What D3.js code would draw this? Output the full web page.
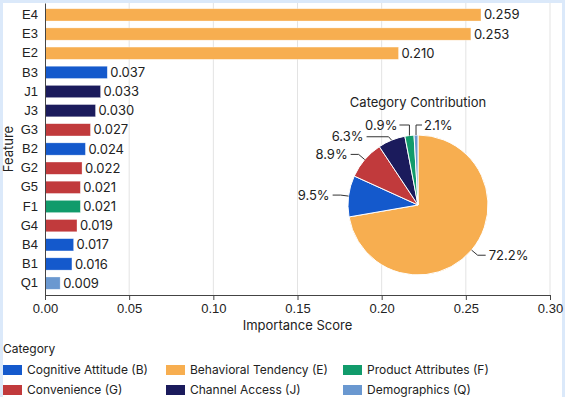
<!DOCTYPE html>
<html>
<head>
<meta charset="utf-8">
<script src="https://cdn.jsdelivr.net/npm/d3@7"></script>
<style>
  body { margin: 0; background: #dbe9fa; }
  svg { display: block; font-family: Inter, "Helvetica Neue", Arial, sans-serif; }
</style>
</head>
<body>
<div id="chart"></div>
<script>
// feature importance, top to bottom
const features = ['E4', 'E3', 'E2', 'B3', 'J1', 'J3', 'G3', 'B2', 'G2', 'G5', 'F1', 'G4', 'B4', 'B1', 'Q1'];
const importance = [0.259, 0.253, 0.210, 0.037, 0.033, 0.030, 0.027, 0.024, 0.022, 0.021, 0.021, 0.019, 0.017, 0.016, 0.009];
const xTicks = [0, 0.05, 0.10, 0.15, 0.20, 0.25, 0.30];

// categories (legend order)
const catCodes = ['B', 'E', 'F', 'G', 'J', 'Q'];
const catNames = ['Cognitive Attitude (B)', 'Behavioral Tendency (E)', 'Product Attributes (F)',
                  'Convenience (G)', 'Channel Access (J)', 'Demographics (Q)'];
const catColors = ['#1459cc', '#f7ae50', '#119b6b', '#c13a3c', '#1b1b5c', '#6a98d0'];

// pie: category share in percent (clockwise from top)
const pieCats = ['E', 'B', 'G', 'J', 'F', 'Q'];
const pieShare = [72.2, 9.5, 8.9, 6.3, 2.1, 0.9];
const pieLabels = ['72.2%', '9.5%', '8.9%', '6.3%', '0.9%', '2.1%'];

const W = 565, H = 397;
const margin = {top: 3, right: 15, bottom: 102, left: 45};

const color = d3.scaleOrdinal().domain(catCodes).range(catColors);

const svg = d3.select('#chart').append('svg')
  .attr('width', W)
  .attr('height', H);

// light frame around the card
svg.append('rect').attr('width', W).attr('height', H).attr('fill', '#dbe9fa');
svg.append('rect').attr('x', 3).attr('y', 3).attr('width', W - 6).attr('height', H).attr('fill', '#fff');

const x = d3.scaleLinear().domain([0, 0.30]).range([margin.left, W - margin.right]);
const y = d3.scaleBand().domain(features).range([margin.top, H - margin.bottom])
  .paddingInner(0.36).paddingOuter(0.3);

// gridlines
svg.append('g')
  .selectAll('line')
  .data(xTicks.slice(1))
  .join('line')
    .attr('x1', d => x(d)).attr('x2', d => x(d))
    .attr('y1', margin.top).attr('y2', H - margin.bottom)
    .attr('stroke', '#e3e3e3');

// bars
svg.append('g')
  .selectAll('rect')
  .data(features)
  .join('rect')
    .attr('x', x(0))
    .attr('y', d => y(d))
    .attr('width', (d, i) => x(importance[i]) - x(0))
    .attr('height', y.bandwidth())
    .attr('fill', d => color(d[0]))
    .attr('stroke', '#fff')
    .attr('stroke-opacity', 0.5)
    .attr('stroke-width', 0.6);

// value labels
svg.append('g')
  .selectAll('text')
  .data(features)
  .join('text')
    .attr('x', (d, i) => x(importance[i]) + 3)
    .attr('y', d => y(d) + y.bandwidth() / 2)
    .attr('dy', '0.35em')
    .attr('font-size', 13)
    .attr('fill', '#222')
    .text((d, i) => importance[i].toFixed(3));

// axes
const xAxis = svg.append('g')
  .attr('transform', `translate(0,${H - margin.bottom})`)
  .call(d3.axisBottom(x).tickValues(xTicks).tickFormat(d3.format('.2f')).tickSize(5).tickPadding(4));
xAxis.select('.domain').attr('stroke', '#444');
xAxis.selectAll('.tick line').attr('stroke', '#444');
xAxis.selectAll('text').attr('font-size', 13).attr('fill', '#222').attr('font-family', null);

const yAxis = svg.append('g')
  .attr('transform', `translate(${margin.left},0)`)
  .call(d3.axisLeft(y).tickSize(0).tickPadding(7));
yAxis.select('.domain').attr('stroke', '#444');
yAxis.selectAll('text').attr('font-size', 13).attr('fill', '#222').attr('font-family', null);

svg.append('text')
  .attr('x', (x(0) + x(0.30)) / 2)
  .attr('y', 330)
  .attr('text-anchor', 'middle')
  .attr('font-size', 13)
  .attr('fill', '#222')
  .text('Importance Score');

svg.append('text')
  .attr('transform', `translate(13,${(margin.top + H - margin.bottom) / 2}) rotate(-90)`)
  .attr('text-anchor', 'middle')
  .attr('font-size', 13)
  .attr('fill', '#222')
  .text('Feature');

// inset pie
const cx = 418, cy = 205, r = 70;
const pie = d3.pie().sort(null).value(d => d)(pieShare);
const arc = d3.arc().innerRadius(0).outerRadius(r);

const pg = svg.append('g').attr('transform', `translate(${cx},${cy})`);

pg.selectAll('path')
  .data(pie)
  .join('path')
    .attr('d', arc)
    .attr('fill', (d, i) => color(pieCats[i]))
    .attr('stroke', '#fff')
    .attr('stroke-width', 1);

pg.append('text')
  .attr('x', 0)
  .attr('y', -r - 28)
  .attr('text-anchor', 'middle')
  .attr('font-size', 13)
  .attr('fill', '#222')
  .text('Category Contribution');

// leader lines: point on rim -> elbow -> horizontal run to the text
// small nudges keep the crowded labels near the top apart
const nudgeY = [0, 0, 0, 4];
const nudgeX = [0, 0, 0, 14];
const topY = -r - 10;
pie.forEach((d, i) => {
  const a = (d.startAngle + d.endAngle) / 2;
  const px = r * Math.sin(a), py = -r * Math.cos(a);
  let pts, tx, ty, anchor;
  if (i >= 4) {
    // tiny slices at top: go straight up then sideways
    const dir = i === 4 ? -1 : 1;
    const run = i === 4 ? 10 : 6;
    pts = [[px, py], [px, topY], [px + dir * run, topY]];
    tx = px + dir * (run + 2); ty = topY; anchor = dir < 0 ? 'end' : 'start';
  } else {
    const ex = (r + 8) * Math.sin(a), ey = -(r + 8) * Math.cos(a) + nudgeY[i];
    const dir = ex < 0 ? -1 : 1;
    const run = 8 + nudgeX[i];
    pts = [[px, py], [ex, ey], [ex + dir * run, ey]];
    tx = ex + dir * (run + 3); ty = ey; anchor = dir < 0 ? 'end' : 'start';
  }
  pg.append('path')
    .attr('d', d3.line()(pts))
    .attr('fill', 'none')
    .attr('stroke', '#333')
    .attr('stroke-width', 1);
  pg.append('text')
    .attr('x', tx)
    .attr('y', ty)
    .attr('dy', '0.35em')
    .attr('text-anchor', anchor)
    .attr('font-size', 13)
    .attr('fill', '#222')
    .text(pieLabels[i]);
});

// legend
const legend = svg.append('g');
legend.append('text')
  .attr('x', 3)
  .attr('y', 353)
  .attr('font-size', 12)
  .attr('fill', '#222')
  .text('Category');

const colX = [3, 166, 343];
const item = legend.selectAll('g.item')
  .data(catCodes)
  .join('g')
    .attr('class', 'item')
    .attr('transform', (d, i) => `translate(${colX[i % 3]},${370 + Math.floor(i / 3) * 20})`);
item.append('rect')
  .attr('y', -5)
  .attr('width', 19)
  .attr('height', 10)
  .attr('fill', d => color(d));
item.append('text')
  .attr('x', 24)
  .attr('dy', '0.3em')
  .attr('font-size', 12)
  .attr('fill', '#222')
  .text((d, i) => catNames[i]);
</script>
</body>
</html>
